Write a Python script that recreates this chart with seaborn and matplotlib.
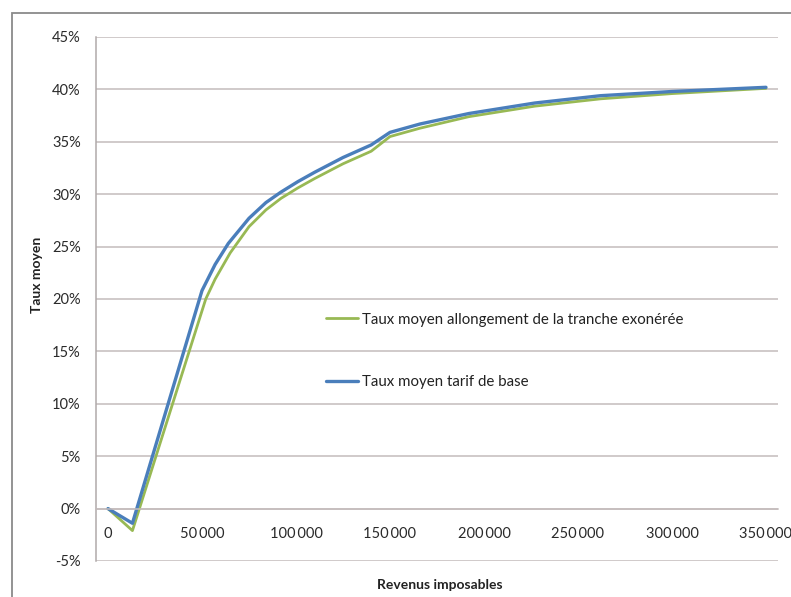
import matplotlib
matplotlib.use("Agg")
import matplotlib.pyplot as plt
import matplotlib.ticker as mticker
from matplotlib.patches import Rectangle
import seaborn as sns
import pandas as pd

# ---- data ----
revenus_base = [0, 13000, 50000, 57000, 64000, 75000, 84000, 92000, 101000, 110000, 125000,
                140000, 150000, 166000, 192000, 227000, 262000, 300000, 350000]
taux_base = [0.0, -1.4, 20.8, 23.3, 25.3, 27.7, 29.2, 30.2, 31.2, 32.1, 33.5,
             34.7, 35.9, 36.7, 37.7, 38.7, 39.4, 39.8, 40.2]

revenus_allong = [0, 13000, 52000, 57000, 65000, 75000, 84000, 92000, 101000, 110000, 125000,
                  140000, 150000, 166000, 192000, 227000, 262000, 300000, 350000]
taux_allong = [0.0, -2.1, 20.0, 21.9, 24.4, 26.9, 28.5, 29.6, 30.6, 31.5, 32.9,
               34.1, 35.5, 36.3, 37.4, 38.4, 39.1, 39.6, 40.1]

label_allong = "Taux moyen allongement de la tranche exonérée"
label_base = "Taux moyen tarif de base"
x_ticks = [0, 50000, 100000, 150000, 200000, 250000, 300000, 350000]
y_ticks = [-5, 0, 5, 10, 15, 20, 25, 30, 35, 40, 45]

df = pd.concat([
    pd.DataFrame({"Revenus": revenus_allong, "Taux": taux_allong, "Série": label_allong}),
    pd.DataFrame({"Revenus": revenus_base, "Taux": taux_base, "Série": label_base}),
], ignore_index=True)

sns.set_style("white")
plt.rcParams["font.family"] = ["Lato", "DejaVu Sans"]

W, H = 791, 597
fig = plt.figure(figsize=(W / 100, H / 100), dpi=100)
fig.patch.set_facecolor("white")
ax = fig.add_axes([96 / W, 1 - 561 / H, (778 - 96) / W, (561 - 37) / H])
ax.set_facecolor("white")

palette = {label_allong: "#98B954", label_base: "#4A7EBB"}
sns.lineplot(data=df, x="Revenus", y="Taux", hue="Série", hue_order=[label_allong, label_base],
             palette=palette, ax=ax, estimator=None, sort=False, legend=True)
for line, lw in zip(ax.get_lines(), [2.0, 2.4]):
    line.set_linewidth(lw)
    line.set_solid_joinstyle("round")

ax.set_xlim(-6380, 356400)
ax.set_ylim(-5, 45)

grid_c = "#c4bcbc"
ax.set_yticks(y_ticks)
ax.yaxis.set_major_formatter(mticker.FuncFormatter(lambda v, p: f"{int(v)}%"))
ax.yaxis.grid(True, color=grid_c, linewidth=1.1)
ax.xaxis.grid(False)

ax.set_xticks(x_ticks)
ax.set_xticklabels([f"{v:,}".replace(",", "\u2009") if v else "0" for v in x_ticks])
ax.set_xticks([v - 5300 for v in x_ticks[1:]], minor=True)
ax.tick_params(axis="x", which="major", length=0, pad=13, labelsize=10.5, colors="#2a2a2a")
ax.tick_params(axis="x", which="minor", length=5, width=1, color=grid_c, direction="out")
ax.tick_params(axis="y", length=5, width=1, color=grid_c, pad=6, labelsize=10.5, colors="#2a2a2a")

for s in ["top", "right"]:
    ax.spines[s].set_visible(False)
ax.spines["bottom"].set_position(("data", 0))
ax.spines["bottom"].set_color(grid_c)
ax.spines["bottom"].set_linewidth(1.1)
ax.spines["left"].set_color("#b0aaaa")
ax.spines["left"].set_linewidth(1.1)
ax.set_xlabel("")
ax.set_ylabel("")

handles, labels = ax.get_legend_handles_labels()
leg = ax.legend(handles, labels, loc="center left", frameon=False,
                bbox_to_anchor=(326 / W, 1 - 351 / H), bbox_transform=fig.transFigure,
                fontsize=10.8, labelspacing=3.25, handlelength=2.1, handletextpad=0.3,
                borderpad=0, borderaxespad=0)
for t in leg.get_texts():
    t.set_color("#222222")
for lh, lw in zip(leg.get_lines(), [2.0, 2.4]):
    lh.set_linewidth(lw)

fig.text(440 / W, 1 - 585 / H, "Revenus imposables", ha="center", va="center",
         fontsize=10, fontweight="bold", color="#222222")
fig.text(37 / W, 1 - 275 / H, "Taux moyen", ha="center", va="center", rotation=90,
         fontsize=10, fontweight="bold", color="#222222")

fig.patches.append(Rectangle((12 / W, -0.1), 1.2, (H - 13) / H + 0.1, transform=fig.transFigure,
                             fill=False, edgecolor="#8a8a8a", linewidth=1.3))

fig.savefig("out.png", dpi=100, facecolor="white")
